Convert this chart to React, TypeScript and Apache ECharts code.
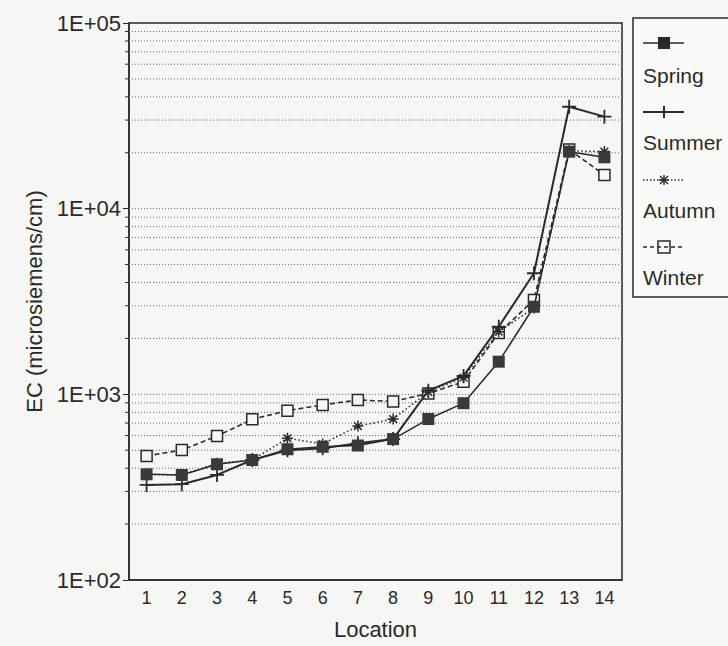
import React, { useEffect, useRef } from "react";
import * as echarts from "echarts";

const locations = ["1", "2", "3", "4", "5", "6", "7", "8", "9", "10", "11", "12", "13", "14"];
const spring = [371, 368, 420, 443, 506, 522, 530, 574, 736, 896, 1499, 2964, 20270, 18900];
const summer = [325, 328, 368, 443, 500, 512, 545, 574, 1047, 1257, 2314, 4490, 35400, 31300];
const autumn = [371, 368, 425, 443, 580, 540, 675, 736, 1030, 1230, 2175, 2920, 20500, 20300];
const winter = [466, 501, 596, 734, 817, 877, 933, 915, 1011, 1170, 2140, 3220, 20800, 15200];
const gridValues = [
  200, 300, 400, 500, 600, 700, 800, 900, 1000,
  2000, 3000, 4000, 5000, 6000, 7000, 8000, 9000, 10000,
  20000, 30000, 40000, 50000, 60000, 70000, 80000, 90000,
];
const majorValues = [100, 1000, 10000, 100000];
const legendNames = ["Spring", "Summer", "Autumn", "Winter"];

const INK = "#2a2a2a";
const FONT = "'Liberation Sans', Arial, sans-serif";
const PLUS = "path://M0,5L10,5M5,0L5,10";
const STAR = "path://M0,5L10,5M5,0L5,10M1.5,1.5L8.5,8.5M8.5,1.5L1.5,8.5";

export default function App() {
  const ref = useRef<HTMLDivElement>(null);
  useEffect(() => {
    if (!ref.current) return;
    const chart = echarts.init(ref.current, null, { renderer: "svg" });
    const fmt = (v: number) => {
      const e = Math.round(Math.log10(v));
      return "1E+" + String(e).padStart(2, "0");
    };
    const lx = 643;
    const lx2 = 684;
    const lmid = 664;
    const symY = [43, 112, 180, 247];
    const txtY = [75, 142, 210, 277];
    const legendGraphics: any[] = [
      {
        type: "rect",
        shape: { x: 633, y: 18, width: 120, height: 279 },
        style: { fill: "#fafaf8", stroke: INK, lineWidth: 1.5 },
        z: 10,
      },
    ];
    legendNames.forEach((n, i) => {
      legendGraphics.push({
        type: "text",
        x: lx,
        y: txtY[i],
        style: { text: n, font: `21px ${FONT}`, fill: INK, verticalAlign: "middle", align: "left" },
        z: 11,
      });
    });
    // Spring
    legendGraphics.push(
      { type: "line", shape: { x1: lx, y1: symY[0], x2: lx2, y2: symY[0] }, style: { stroke: INK, lineWidth: 1.5 }, z: 11 },
      { type: "rect", shape: { x: lmid - 6, y: symY[0] - 6, width: 12, height: 12 }, style: { fill: INK }, z: 11 },
      // Summer
      { type: "line", shape: { x1: lx, y1: symY[1], x2: lx2, y2: symY[1] }, style: { stroke: INK, lineWidth: 2 }, z: 11 },
      { type: "line", shape: { x1: lmid, y1: symY[1] - 6, x2: lmid, y2: symY[1] + 6 }, style: { stroke: INK, lineWidth: 2 }, z: 11 },
      // Autumn
      { type: "line", shape: { x1: lx, y1: symY[2], x2: lx2, y2: symY[2] }, style: { stroke: INK, lineWidth: 1.5, lineDash: [1.5, 2] }, z: 11 },
      { type: "line", shape: { x1: lmid - 5, y1: symY[2], x2: lmid + 5, y2: symY[2] }, style: { stroke: INK, lineWidth: 1.5 }, z: 11 },
      { type: "line", shape: { x1: lmid, y1: symY[2] - 5, x2: lmid, y2: symY[2] + 5 }, style: { stroke: INK, lineWidth: 1.5 }, z: 11 },
      { type: "line", shape: { x1: lmid - 4, y1: symY[2] - 4, x2: lmid + 4, y2: symY[2] + 4 }, style: { stroke: INK, lineWidth: 1.5 }, z: 11 },
      { type: "line", shape: { x1: lmid + 4, y1: symY[2] - 4, x2: lmid - 4, y2: symY[2] + 4 }, style: { stroke: INK, lineWidth: 1.5 }, z: 11 },
      // Winter
      { type: "line", shape: { x1: lx, y1: symY[3], x2: lx2, y2: symY[3] }, style: { stroke: INK, lineWidth: 1.5, lineDash: [4, 3] }, z: 11 },
      { type: "rect", shape: { x: lmid - 6, y: symY[3] - 6, width: 12, height: 12 }, style: { fill: "none", stroke: INK, lineWidth: 1.5 }, z: 11 }
    );

    chart.setOption({
      animation: false,
      backgroundColor: "#f6f6f4",
      textStyle: { fontFamily: FONT, color: INK },
      grid: { left: 129, right: 106, top: 23, bottom: 66, show: true, borderColor: INK, borderWidth: 1.5, backgroundColor: "transparent" },
      xAxis: {
        type: "category",
        data: locations,
        boundaryGap: true,
        name: "Location",
        nameLocation: "middle",
        nameGap: 38,
        nameTextStyle: { fontSize: 22, color: INK, fontFamily: FONT },
        axisLine: { lineStyle: { color: INK, width: 1.5 } },
        axisTick: { alignWithLabel: true, length: 6, lineStyle: { color: INK } },
        axisLabel: { fontSize: 18, color: INK, margin: 9, fontFamily: FONT },
        splitLine: { show: false },
      },
      yAxis: {
        type: "log",
        logBase: 10,
        min: 100,
        max: 100000,
        name: "EC (microsiemens/cm)",
        nameLocation: "middle",
        nameGap: 84,
        nameTextStyle: { fontSize: 22, color: INK, fontFamily: FONT },
        axisLine: { show: true, lineStyle: { color: INK, width: 1.5 } },
        axisTick: { show: true, length: 6, lineStyle: { color: INK } },
        axisLabel: { fontSize: 22, color: INK, margin: 8, fontFamily: FONT, formatter: fmt },
        splitLine: { show: false },
        minorTick: { show: false },
      },
      graphic: legendGraphics,
      series: [
        {
          type: "custom",
          silent: true,
          clip: false,
          z: 1,
          encode: { x: 0, y: 1 },
          data: gridValues.map((v) => [0, v]),
          renderItem: (params: any, api: any) => {
            const cs = params.coordSys;
            const v = api.value(1);
            const y = api.coord([0, v])[1];
            const children: any[] = [
              {
                type: "line",
                shape: { x1: cs.x, y1: y, x2: cs.x + cs.width, y2: y },
                style: { stroke: "#6a6a6a", lineWidth: 1, lineDash: [1, 2] },
              },
            ];
            if (majorValues.indexOf(v) < 0) {
              children.push({
                type: "line",
                shape: { x1: cs.x - 4, y1: y, x2: cs.x, y2: y },
                style: { stroke: INK, lineWidth: 1 },
              });
            }
            return { type: "group", children };
          },
        },
        {
          name: "Winter",
          type: "line",
          data: winter,
          z: 3,
          symbol: "rect",
          symbolSize: 11,
          lineStyle: { color: INK, width: 1.6, type: [5, 3] },
          itemStyle: { color: "#f6f6f4", borderColor: INK, borderWidth: 1.5 },
        },
        {
          name: "Autumn",
          type: "line",
          data: autumn,
          z: 4,
          symbol: STAR,
          symbolSize: 11,
          lineStyle: { color: INK, width: 1.5, type: [1.5, 2.5] },
          itemStyle: { color: "none", borderColor: INK, borderWidth: 1.5 },
        },
        {
          name: "Summer",
          type: "line",
          data: summer,
          z: 5,
          symbol: PLUS,
          symbolSize: 14,
          lineStyle: { color: INK, width: 2 },
          itemStyle: { color: "none", borderColor: INK, borderWidth: 1.8 },
        },
        {
          name: "Spring",
          type: "line",
          data: spring,
          z: 6,
          symbol: "rect",
          symbolSize: 12,
          lineStyle: { color: INK, width: 1.5 },
          itemStyle: { color: "#3a3a3a", borderColor: INK, borderWidth: 0 },
        },
      ],
    });
    return () => chart.dispose();
  }, []);
  return (
    <div
      ref={ref}
      style={{ position: "fixed", left: 0, top: 0, width: 728, height: 646 }}
    />
  );
}
